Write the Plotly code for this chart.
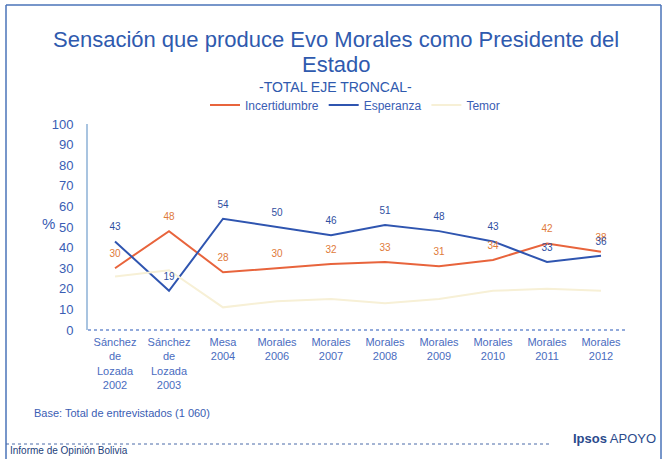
import plotly.graph_objects as go

categories = ["Sánchez<br>de<br>Lozada<br>2002", "Sánchez<br>de<br>Lozada<br>2003", "Mesa<br>2004",
              "Morales<br>2006", "Morales<br>2007", "Morales<br>2008", "Morales<br>2009",
              "Morales<br>2010", "Morales<br>2011", "Morales<br>2012"]
incertidumbre = [30, 48, 28, 30, 32, 33, 31, 34, 42, 38]
esperanza = [43, 19, 54, 50, 46, 51, 48, 43, 33, 36]
temor = [26, 29, 11, 14, 15, 13, 15, 19, 20, 19]
y_ticks = list(range(0, 101, 10))

FONT = "Liberation Sans"
BLUE = "#3a5db4"
ORANGE = "#e8643c"

L, R, T, B = 88, 35, 124, 129
W, H = 663, 459
PW, PH = W - L - R, H - T - B

def px(x):
    return (x - L) / PW

def py(y):
    return 1 - (y - T) / PH

fig = go.Figure()
fig.add_trace(go.Scatter(x=categories, y=incertidumbre, name="Incertidumbre", mode="lines",
                         line=dict(color=ORANGE, width=2)))
fig.add_trace(go.Scatter(x=categories, y=esperanza, name="Esperanza", mode="lines",
                         line=dict(color="#2f55b0", width=2)))
fig.add_trace(go.Scatter(x=categories, y=temor, name="Temor", mode="lines",
                         line=dict(color="#f7f0d6", width=2)))
# value labels
fig.add_trace(go.Scatter(x=categories, y=incertidumbre, mode="markers+text", showlegend=False,
                         marker=dict(size=12, opacity=0), hoverinfo="skip",
                         text=[str(v) for v in incertidumbre], textposition="top center",
                         textfont=dict(color="#e07a3a", size=10, family=FONT)))
fig.add_trace(go.Scatter(x=categories, y=esperanza, mode="markers+text", showlegend=False,
                         marker=dict(size=12, opacity=0), hoverinfo="skip",
                         text=[str(v) for v in esperanza], textposition="top center",
                         textfont=dict(color="#2f4f9f", size=10, family=FONT)))

fig.update_layout(
    width=W, height=H,
    margin=dict(l=L, r=R, t=T, b=B),
    paper_bgcolor="white", plot_bgcolor="white",
    font=dict(family=FONT, color=BLUE),
    showlegend=True,
    legend=dict(orientation="h", x=px(355), xanchor="center", y=py(105), yanchor="middle",
                font=dict(size=12, color=BLUE, family=FONT), bgcolor="rgba(0,0,0,0)",
                itemwidth=30, tracegroupgap=0),
    xaxis=dict(type="category", showgrid=False, zeroline=False, showline=False,
               tickfont=dict(size=11, color="#4a6cc0", family=FONT), ticks="",
               range=[-0.5, 9.5], ticklabelstandoff=4),
    yaxis=dict(range=[0, 100], tickvals=y_ticks, showgrid=False, zeroline=False,
               showline=True, linecolor="#a9c4e0", linewidth=2,
               tickfont=dict(size=13, color=BLUE, family=FONT), ticks="", ticklabelstandoff=10),
)

shapes = [
    dict(type="line", xref="paper", yref="paper", x0=0, x1=1, y0=0, y1=0,
         line=dict(color="#6f8fd0", width=1.5, dash="dot")),
    dict(type="line", xref="paper", yref="paper", x0=px(6), x1=px(6), y0=py(5), y1=py(470),
         line=dict(color="#4a73b8", width=1.5)),
    dict(type="line", xref="paper", yref="paper", x0=px(6), x1=px(661), y0=py(5), y1=py(5),
         line=dict(color="#4a73b8", width=1.5)),
    dict(type="line", xref="paper", yref="paper", x0=px(661), x1=px(661), y0=py(5), y1=py(470),
         line=dict(color="#4a73b8", width=1.5)),
    dict(type="line", xref="paper", yref="paper", x0=px(6), x1=px(552), y0=py(444), y1=py(444),
         line=dict(color="#4a6aa8", width=1, dash="dot")),
]
fig.update_layout(shapes=shapes)

ann = [
    dict(text="Sensación que produce Evo Morales como Presidente del", x=px(336), y=py(40),
         xanchor="center", yanchor="middle", font=dict(size=22, color="#2f5aae", family=FONT)),
    dict(text="Estado", x=px(336), y=py(64),
         xanchor="center", yanchor="middle", font=dict(size=22, color="#2f5aae", family=FONT)),
    dict(text="-TOTAL EJE TRONCAL-", x=px(335), y=py(87), xanchor="center", yanchor="middle",
         font=dict(size=14, color="#2f5aae", family=FONT)),
    dict(text="%", x=px(48), y=py(223), xanchor="center", yanchor="middle",
         font=dict(size=15, color=BLUE, family=FONT)),
    dict(text="Base: Total de entrevistados (1 060)", x=px(32), y=py(413), xanchor="left", yanchor="middle",
         font=dict(size=11, color=BLUE, family=FONT)),
    dict(text="<b>Ipsos</b> APOYO", x=px(658), y=py(438), xanchor="right", yanchor="middle",
         font=dict(size=13, color="#2b4a8c", family=FONT)),
    dict(text="Informe de Opinión Bolivia", x=px(8), y=py(450), xanchor="left", yanchor="middle",
         font=dict(size=10, color="#23407a", family=FONT)),
]
for a in ann:
    a.update(xref="paper", yref="paper", showarrow=False)
fig.update_layout(annotations=ann)

fig.write_html("out.html", config={"displayModeBar": False},
               post_script="document.body.style.margin='0';document.body.style.overflow='hidden';")
